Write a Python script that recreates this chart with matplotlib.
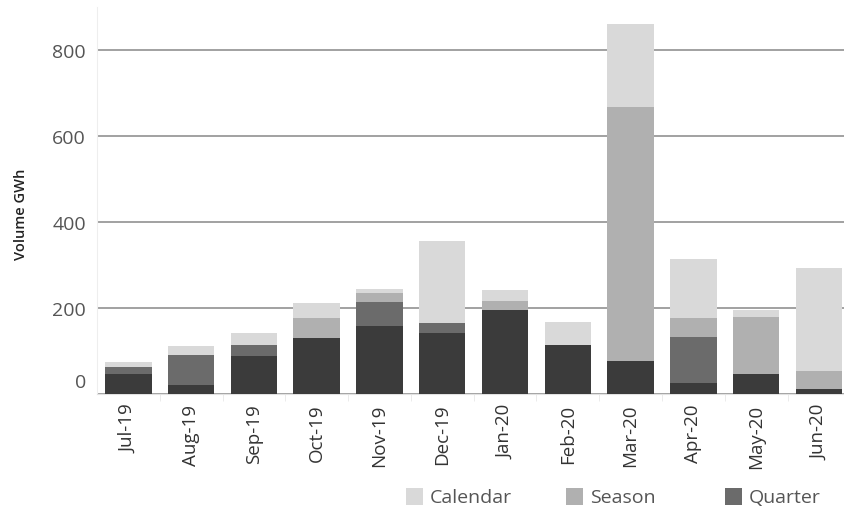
import matplotlib.pyplot as plt
import matplotlib.transforms as mtransforms
from matplotlib.patches import Rectangle
import numpy as np

plt.rcParams['font.family'] = ['Open Sans', 'DejaVu Sans']

months = ["Jul-19", "Aug-19", "Sep-19", "Oct-19", "Nov-19", "Dec-19",
          "Jan-20", "Feb-20", "Mar-20", "Apr-20", "May-20", "Jun-20"]
month_vol = [46, 22, 89, 130, 157, 142, 195, 113, 77, 25, 46, 12]
quarter = [17, 69, 25, 0, 56, 22, 0, 0, 0, 108, 0, 0]
season = [0, 0, 0, 46, 22, 0, 21, 0, 591, 43, 134, 42]
calendar = [11, 20, 28, 35, 9, 192, 26, 54, 192, 138, 15, 239]

series = [("Month", month_vol, "#3b3b3b"),
          ("Quarter", quarter, "#6b6b6b"),
          ("Season", season, "#b0b0b0"),
          ("Calendar", calendar, "#d9d9d9")]

fig = plt.figure(figsize=(8.44, 5.10), dpi=100)
ax = fig.add_axes([97 / 844, 115 / 510, 747 / 844, 387 / 510])

x = np.arange(len(months))
bottom = np.zeros(len(months))
for name, vals, col in series:
    ax.bar(x, vals, 0.74, bottom=bottom, color=col, label=name, zorder=3)
    bottom += np.array(vals)

ax.set_xlim(-0.5, 11.4)
ax.set_ylim(0, 900)
ax.set_yticks([0, 200, 400, 600, 800])
ax.yaxis.grid(True, color="#888888", linewidth=1.1, zorder=0)
ax.set_axisbelow(True)

ax.set_xticks(x)
ax.set_xticklabels(months, rotation=90, fontsize=13.5, color="#333333")
ax.set_xticks(x[:-1] + 0.5, minor=True)
ax.tick_params(axis="x", which="major", length=0, pad=7)
ax.tick_params(axis="x", which="minor", length=5, color="#e8e8e8")
ax.tick_params(axis="y", length=0, pad=8, labelsize=14, labelcolor="#555555")

for s in ["top", "right"]:
    ax.spines[s].set_visible(False)
ax.spines["left"].set_color("#eeeeee")
ax.spines["bottom"].set_color("#e2e2e2")

ax.set_ylabel("Volume GWh", fontsize=10.5, color="#222222", fontweight="semibold")
ax.yaxis.set_label_coords(-0.093, 0.468)

# zero label sits a bit above the axis, like the original
fig.canvas.draw()
zero_tick = ax.yaxis.get_major_ticks()[0]
zero_tick.label1.set_transform(zero_tick.label1.get_transform() +
                               mtransforms.ScaledTranslation(0, 14 / 100, fig.dpi_scale_trans))

# legend along the bottom
for name, col, xs in [("Calendar", "#d9d9d9", 406), ("Season", "#b0b0b0", 566), ("Quarter", "#6b6b6b", 725)]:
    fig.patches.append(Rectangle((xs / 844, (510 - 506) / 510), 17 / 844, 17 / 510,
                                 transform=fig.transFigure, facecolor=col, edgecolor="none"))
    fig.text((xs + 24) / 844, (510 - 498) / 510, name, fontsize=14, color="#555555", va="center")

fig.savefig("out.png", dpi=100)
